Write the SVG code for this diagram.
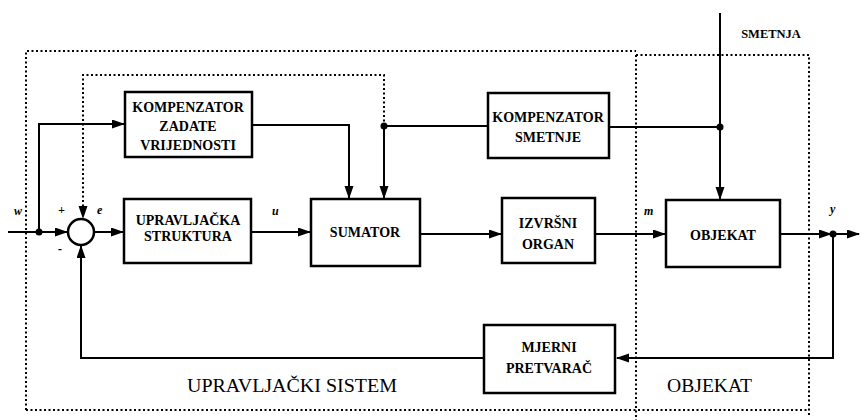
<svg xmlns="http://www.w3.org/2000/svg" width="861" height="420" viewBox="0 0 861 420">
<style>
.box{fill:#fff;stroke:#000;stroke-width:2.5}
.bt{font-family:"Liberation Serif",serif;font-weight:bold;font-size:14px;text-anchor:middle;fill:#000}
.ln{fill:none;stroke:#000;stroke-width:2}
.ar{marker-end:url(#ah)}
.dot{fill:none;stroke:#000;stroke-width:2;stroke-dasharray:2 2.5}
.lbl{font-family:"Liberation Serif",serif;font-weight:bold;font-style:italic;font-size:12px;fill:#000}
.big{font-family:"Liberation Serif",serif;font-size:19px;fill:#000}
</style>
<defs>
<marker id="ah" markerWidth="13" markerHeight="10" refX="12" refY="4.5" orient="auto" markerUnits="userSpaceOnUse"><path d="M0,0 L13,4.5 L0,9 z" fill="#000"/></marker>
</defs>
<g id="boundaries">
<path class="dot" d="M26,410 V51 H636"/>
<path class="dot" d="M636,55 H809 V416"/>
<path class="dot" d="M636,55 V420"/>
<path class="dot" d="M26,410 H809"/>
</g>
<g id="connectors">
<path class="ln ar" d="M8,232 H67"/>
<path class="ln ar" d="M39,232 V124 H124"/>
<path class="ln ar" d="M94,232 H123"/>
<path class="ln ar" d="M251,232 H310"/>
<path class="ln ar" d="M252,125 H349 V198"/>
<path class="ln ar" d="M488,126 H384 V198"/>
<path class="dot ar" d="M384,126 V75 H83 V218"/>
<path class="ln ar" d="M720,13 V199"/>
<path class="ln" d="M720,127 H609"/>
<path class="ln ar" d="M420,234 H501"/>
<path class="ln ar" d="M595,234 H665"/>
<path class="ln ar" d="M780,234 H831"/>
<path class="ln ar" d="M833,234 H859"/>
<path class="ln ar" d="M833,234 V358 H617"/>
<path class="ln ar" d="M484,358 H81 V246"/>
<circle cx="39" cy="232" r="3.5"/>
<circle cx="384" cy="126" r="3.5"/>
<circle cx="720" cy="127" r="3.5"/>
<circle cx="833" cy="234" r="3.5"/>
</g>
<g id="sum">
<circle cx="81" cy="232" r="13" fill="#fff" stroke="#000" stroke-width="2.5"/>
</g>
<g id="kzv">
<rect class="box" x="125" y="92" width="127" height="65"/>
<text class="bt" x="188" y="112">KOMPENZATOR</text>
<text class="bt" x="188" y="131">ZADATE</text>
<text class="bt" x="188" y="150">VRIJEDNOSTI</text>
</g>
<g id="upr">
<rect class="box" x="124" y="199" width="127" height="64"/>
<text class="bt" x="188" y="225">UPRAVLJAČKA</text>
<text class="bt" x="188" y="241">STRUKTURA</text>
</g>
<g id="sumator">
<rect class="box" x="311" y="199" width="109" height="67"/>
<text class="bt" x="365" y="237">SUMATOR</text>
</g>
<g id="ks">
<rect class="box" x="488" y="93" width="121" height="65"/>
<text class="bt" x="548" y="122">KOMPENZATOR</text>
<text class="bt" x="548" y="142">SMETNJE</text>
</g>
<g id="izv">
<rect class="box" x="502" y="198" width="93" height="65"/>
<text class="bt" x="548" y="228">IZVRŠNI</text>
<text class="bt" x="548" y="249">ORGAN</text>
</g>
<g id="obj">
<rect class="box" x="666" y="200" width="114" height="67"/>
<text class="bt" x="723" y="240">OBJEKAT</text>
</g>
<g id="mjer">
<rect class="box" x="484" y="325" width="131" height="68"/>
<text class="bt" x="549" y="352">MJERNI</text>
<text class="bt" x="549" y="373">PRETVARAČ</text>
</g>
<g id="labels">
<text class="lbl" x="14" y="215">w</text>
<text class="lbl" x="58" y="214" font-style="normal">+</text>
<text class="lbl" x="97" y="214">e</text>
<text class="lbl" x="58" y="253" font-style="normal">-</text>
<text class="lbl" x="272" y="215">u</text>
<text class="lbl" x="644" y="215">m</text>
<text class="lbl" x="830" y="213">y</text>
<text class="bt" x="771" y="38" style="font-size:12.5px">SMETNJA</text>
<text class="big" x="187" y="392" textLength="210" lengthAdjust="spacingAndGlyphs">UPRAVLJAČKI SISTEM</text>
<text class="big" x="667" y="392" textLength="85" lengthAdjust="spacingAndGlyphs">OBJEKAT</text>
</g>
</svg>
